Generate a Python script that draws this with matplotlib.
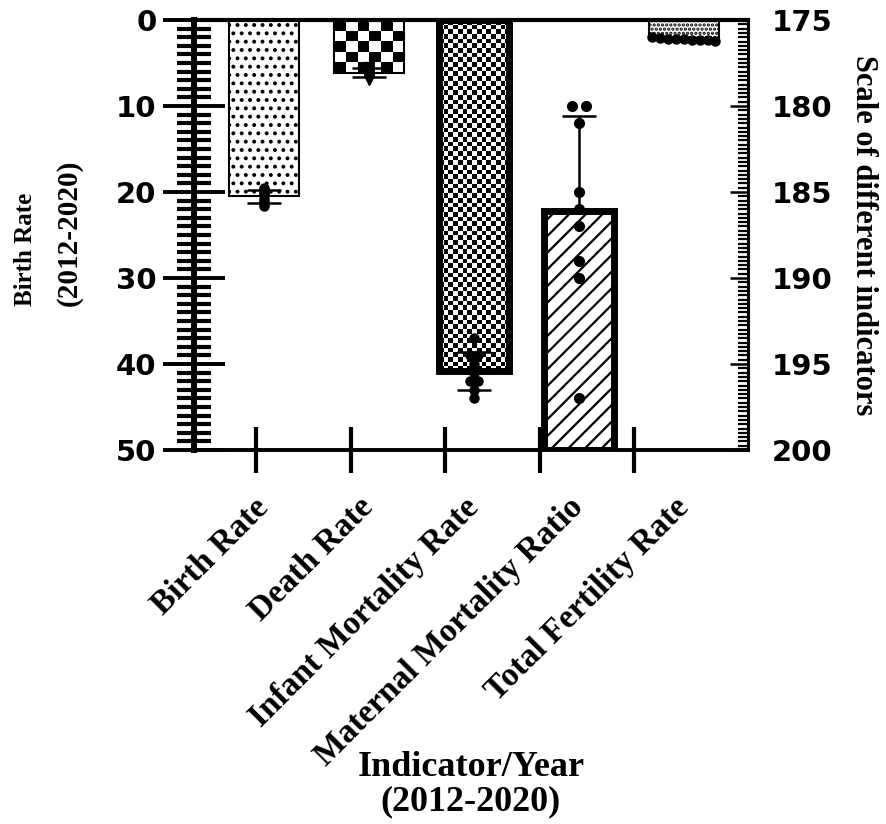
import numpy as np
import matplotlib
matplotlib.use('Agg')
import matplotlib.pyplot as plt

categories = ['Birth Rate', 'Death Rate', 'Infant Mortality Rate',
              'Maternal Mortality Ratio', 'Total Fertility Rate']

# yearly values 2012-2020
birth_rate = [21.6, 21.4, 21.0, 20.8, 20.4, 20.2, 20.0, 19.7, 19.5]
death_rate = [7.0, 6.9, 6.4, 6.2, 6.0, 5.9, 5.8, 5.6, 5.5]
infant_mortality = [44, 43, 42, 42, 41, 40, 39, 39, 37]
maternal_mortality = [180, 180, 181, 185, 186, 187, 189, 190, 197]  # right axis
fertility_rate = [2.4, 2.3, 2.3, 2.3, 2.2, 2.2, 2.2, 2.1, 2.0]

left_ticks = [0, 10, 20, 30, 40, 50]
right_ticks = [175, 180, 185, 190, 195, 200]

plt.rcParams['hatch.linewidth'] = 1.6

serif = 'Liberation Serif'
W, H = 886, 824
fig = plt.figure(figsize=(W / 100, H / 100), dpi=100)
pos = [194 / W, 1 - 450 / H, (748 - 194) / W, (450 - 20) / H]
ax = fig.add_axes(pos)
ax2 = ax.twinx()
ax2.set_position(pos)

x = np.arange(len(categories))
ax.set_xlim(-0.667, 4.61)
ax.set_ylim(left_ticks[-1], left_ticks[0])
ax2.set_ylim(right_ticks[-1], right_ticks[0])


def spread(xc, vals, step=0.07, tol=0.0):
    # put (nearly) equal values side by side, like the prism scatter
    vals = list(vals)
    xs = [xc] * len(vals)
    groups = []
    for i in np.argsort(vals):
        if groups and abs(vals[i] - vals[groups[-1][0]]) <= tol:
            groups[-1].append(i)
        else:
            groups.append([i])
    for g in groups:
        for k, i in enumerate(g):
            xs[i] = xc + (k - (len(g) - 1) / 2) * step
    return xs


def checker(axis, bar, cell):
    x0, y0 = bar.get_x(), bar.get_y()
    w, h = bar.get_width(), bar.get_height()
    p0 = axis.transData.transform((x0, y0))
    p1 = axis.transData.transform((x0 + w, y0 + h))
    nx = max(1, int(round(abs(p1[0] - p0[0]) / cell)))
    ny = max(1, int(round(abs(p1[1] - p0[1]) / cell)))
    board = np.add.outer(np.arange(ny), np.arange(nx)) % 2
    im = axis.imshow(board, cmap='gray', extent=(x0, x0 + w, y0 + h, y0),
                     aspect='auto', interpolation='nearest', zorder=1.5)
    im.set_clip_path(bar)


bw = 0.667
left_sets = {0: birth_rate, 1: death_rate, 2: infant_mortality, 4: fertility_rate}
styles = {0: dict(hatch='..', lw=1.5), 1: dict(hatch=None, lw=1.5),
          2: dict(hatch=None, lw=5), 4: dict(hatch='....', lw=1.5)}
markers = {0: 'o', 1: 'v', 2: 'o', 4: 'o'}
spreads = {0: (0.07, 0.0), 1: (0.07, 0.0), 2: (0.07, 0.0), 4: (0.075, 0.5)}

for i, vals in left_sets.items():
    m, sd = np.mean(vals), np.std(vals, ddof=1)
    face = 'none' if i in (1, 2) else 'white'
    b = ax.bar(x[i], m, width=bw, facecolor=face, edgecolor='black',
               linewidth=styles[i]['lw'], hatch=styles[i]['hatch'], zorder=2)[0]
    if i == 1:
        checker(ax, b, 11)
    if i == 2:
        checker(ax, b, 4.7)
    ax.errorbar(x[i], m, yerr=sd, fmt='none', ecolor='black', elinewidth=1.8,
                capsize=12, capthick=1.8, zorder=4)
    step, tol = spreads[i]
    ax.plot(spread(x[i], vals, step, tol), vals, linestyle='none',
            marker=markers[i], ms=6.5, color='black', zorder=5)

# maternal mortality on the right scale, bar hangs from the bottom of that scale
mm, msd = np.mean(maternal_mortality), np.std(maternal_mortality, ddof=1)
base = right_ticks[-1]
ax2.bar(x[3], mm - base, bottom=base, width=bw, facecolor='white',
        edgecolor='black', linewidth=5, hatch='//', zorder=2)
ax2.errorbar(x[3], mm, yerr=[[msd], [0]], fmt='none', ecolor='black',
             elinewidth=1.8, capsize=12, capthick=1.8, zorder=4)
ax2.plot(spread(x[3], maternal_mortality, 0.14), maternal_mortality,
         linestyle='none', marker='o', ms=7, color='black', zorder=5)

ax.set_xlim(-0.667, 4.61)
ax.set_ylim(left_ticks[-1], left_ticks[0])

# x axis: labels under the bars, tick marks slightly off
ax.set_xticks(x)
ax.set_xticklabels(categories, rotation=45, ha='right', va='center',
                   rotation_mode='anchor', fontfamily=serif,
                   fontweight='bold', fontsize=24)
ax.set_xticks(x * 0.9 - 0.076, minor=True)
ax.tick_params(axis='x', which='major', length=0, pad=38)
ax.tick_params(axis='x', which='minor', direction='inout', length=33, width=3)

ax.set_yticks(left_ticks)
ax.set_yticks(np.arange(left_ticks[0], left_ticks[-1] + 1, 1), minor=True)
ax.tick_params(axis='y', which='major', direction='inout', length=44, width=2.8,
               pad=5, labelsize=21)
ax.tick_params(axis='y', which='minor', direction='inout', length=24, width=3)
for t in ax.get_yticklabels():
    t.set_fontweight('bold')
    t.set_fontfamily('DejaVu Sans')

ax2.set_yticks(right_ticks)
ax2.set_yticks(np.arange(right_ticks[0], right_ticks[-1] + 0.01, 0.25), minor=True)
ax2.tick_params(axis='y', which='major', direction='in', length=13, width=1.8,
                pad=17, labelsize=21)
ax2.tick_params(axis='y', which='minor', direction='in', length=7, width=1.6)
for t in ax2.get_yticklabels():
    t.set_fontweight('bold')
    t.set_fontfamily('DejaVu Sans')

ax.spines['right'].set_visible(False)
ax.spines['left'].set_linewidth(4.3)
ax.spines['top'].set_linewidth(3)
ax.spines['bottom'].set_linewidth(2.8)
for s in ['left', 'top', 'bottom']:
    ax2.spines[s].set_visible(False)
ax2.spines['right'].set_linewidth(2.2)

# left title in two lines, second line set larger as in the original
ax.text(-0.305, 0.335, 'Birth Rate', transform=ax.transAxes, rotation=90,
        rotation_mode='anchor', ha='left', va='center', fontfamily=serif,
        fontsize=18, fontweight='bold')
ax.text(-0.226, 0.335, '(2012-2020)', transform=ax.transAxes, rotation=90,
        rotation_mode='anchor', ha='left', va='center', fontfamily=serif,
        fontsize=21, fontweight='bold')

ax2.set_ylabel('Scale of different indicators', fontfamily=serif, fontsize=22,
               fontweight='bold', rotation=270, va='center')
ax2.yaxis.set_label_coords(1.2076, 0.5)
ax.set_xlabel('Indicator/Year\n(2012-2020)', fontfamily=serif, fontsize=26,
              fontweight='bold', linespacing=1.05)
ax.xaxis.set_label_coords(0.5, -0.7)

fig.savefig('out.png', dpi=100)
